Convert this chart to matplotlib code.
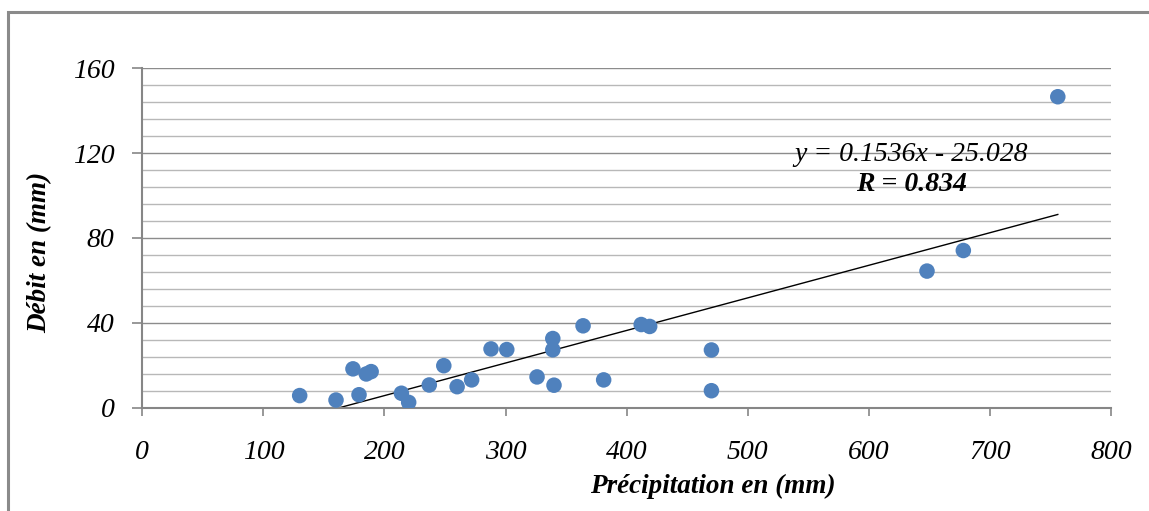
import matplotlib
matplotlib.use('Agg')
import matplotlib.pyplot as plt
import numpy as np
from matplotlib.patches import Rectangle

# Précipitation (mm) et débit (mm)
precip = [130, 160, 174, 179, 185, 189, 214, 220, 237, 249,
          260, 272, 288, 301, 326, 339, 339, 340, 364, 381,
          412, 419, 470, 470, 648, 678, 756]
debit = [5.7, 3.6, 18.3, 6.1, 15.9, 17.0, 6.8, 2.5, 10.7, 19.8,
         9.9, 13.1, 27.7, 27.4, 14.5, 32.6, 27.3, 10.6, 38.6, 13.1,
         39.2, 38.3, 27.2, 8.0, 64.4, 74.1, 146.6]

slope = 0.1536
intercept = -25.028
r_value = 0.834

x_ticks = list(range(0, 801, 100))
y_ticks = list(range(0, 161, 40))

plt.rcParams['font.family'] = ['Liberation Serif', 'DejaVu Serif']

fig = plt.figure(figsize=(11.49, 5.11), dpi=100)
ax = fig.add_axes([0.1238, 0.2022, 0.967 - 0.1238, 0.8663 - 0.2022])

# cadre gris autour du graphique
fig.patches.append(Rectangle((8 / 1149, -0.1), 1.2, (511 - 12) / 511 + 0.1,
                             transform=fig.transFigure, fill=False,
                             edgecolor='#8a8a8a', linewidth=2.2))

ax.set_xlim(0, 800)
ax.set_ylim(0, 160)

# quadrillage horizontal
for yv in np.arange(8, 161, 8):
    major = yv % 40 == 0
    ax.axhline(yv, color='#8c8c8c' if major else '#b8b8b8',
               linewidth=1.0, zorder=0)

ax.scatter(precip, debit, s=125, color='#4f81bd', edgecolors='none', zorder=3)

xs = np.array([min(precip), max(precip)])
ax.plot(xs, slope * xs + intercept, color='black', linewidth=1.0, zorder=2)

ax.text(635, 119.5, 'y = %.4fx - %.3f' % (slope, -intercept), ha='center',
        va='center', fontsize=20, style='italic')
ax.text(635, 105, 'R = %.3f' % r_value, ha='center', va='center',
        fontsize=20, style='italic', fontweight='bold')

for side in ['top', 'right']:
    ax.spines[side].set_visible(False)
for side in ['left', 'bottom']:
    ax.spines[side].set_color('#868686')
    ax.spines[side].set_linewidth(1.5)

ax.set_xticks(x_ticks)
ax.set_yticks(y_ticks)
ax.tick_params(axis='x', direction='out', length=6, width=1.2,
               colors='#868686', labelcolor='black', labelsize=20, pad=17)
ax.tick_params(axis='y', direction='out', length=7, width=1.2,
               colors='#868686', labelcolor='black', labelsize=20, pad=13)
for lab in ax.get_xticklabels() + ax.get_yticklabels():
    lab.set_style('italic')

ax.set_xlabel('Précipitation en (mm)', fontsize=19.5, style='italic',
              fontweight='bold')
ax.set_ylabel('Débit en (mm)', fontsize=19.5, style='italic',
              fontweight='bold')
ax.xaxis.set_label_coords(0.589, -0.195)
ax.yaxis.set_label_coords(-0.093, 0.456)

fig.savefig('out.png', dpi=100)
